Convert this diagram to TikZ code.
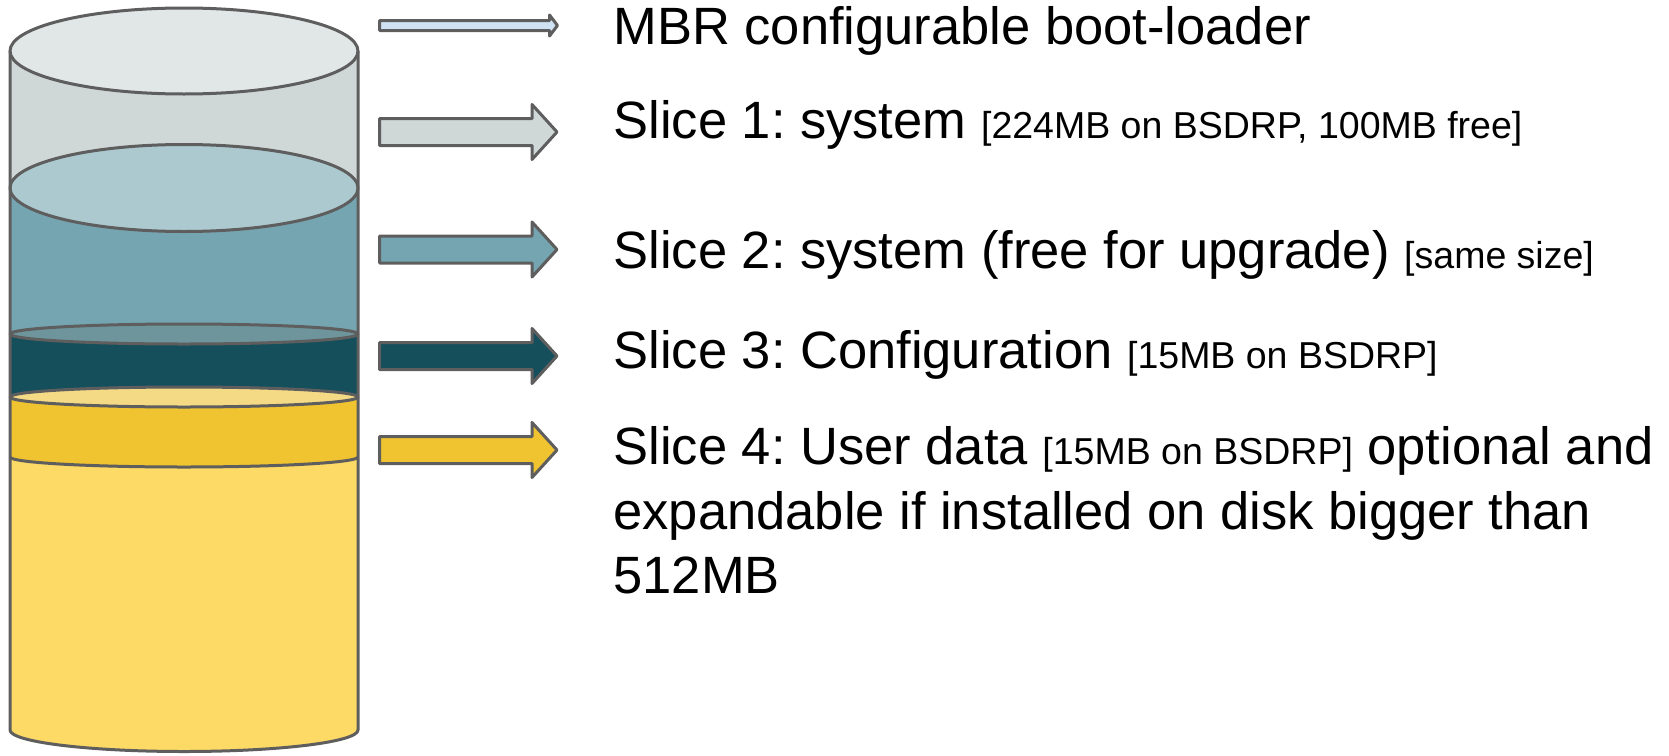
\documentclass[tikz,border=0pt]{standalone}
\usepackage{fontspec}
\setmainfont{Liberation Sans}
\frenchspacing
\definecolor{edgegray}{HTML}{5E5E5E}
\definecolor{sOneSide}{HTML}{D0D7D7}
\definecolor{sOneTop}{HTML}{E1E6E6}
\definecolor{sTwoSide}{HTML}{75A5B0}
\definecolor{sTwoTop}{HTML}{ACC9CF}
\definecolor{sThreeSide}{HTML}{154F5C}
\definecolor{sThreeTop}{HTML}{6E959C}
\definecolor{sFourSide}{HTML}{F0C330}
\definecolor{sFourTop}{HTML}{F5DA85}
\definecolor{bodyYellow}{HTML}{FDD966}
\definecolor{mbrBlue}{HTML}{CFE2F3}
\newcommand\smalltxt{\fontsize{37.5}{45}\selectfont}
\newcommand\slicearrow[2]{%
  \draw[arrowshape, fill=#2] (379.5,{#1-13.5}) -- (532,{#1-13.5}) -- (532,{#1-27.5}) -- (557,#1)
    -- (532,{#1+27.5}) -- (532,{#1+13.5}) -- (379.5,{#1+13.5}) -- cycle;}
\begin{document}
\begin{tikzpicture}[x=1pt,y=-1pt,line width=3pt,line join=round,
  arrowshape/.style={draw=edgegray},
  bigtext/.style={anchor=base west,inner sep=0pt,font=\fontsize{52.5}{63}\selectfont,text=black}]
\useasboundingbox (0,0) rectangle (1669,755);
% body (bottom, light yellow)
\fill[bodyYellow] (10,457) -- (10,730) arc[start angle=180,end angle=0,x radius=174,y radius=21.5] -- (358,457) -- cycle;
% slice 1
\fill[sOneSide] (10,51) -- (10,188) arc[start angle=180,end angle=0,x radius=174,y radius=43.5] -- (358,51) -- cycle;
\draw[edgegray,fill=sOneTop] (184,51) ellipse[x radius=174,y radius=43];
% slice 2
\fill[sTwoSide] (10,188) -- (10,334) arc[start angle=180,end angle=0,x radius=174,y radius=10] -- (358,188) -- cycle;
\draw[edgegray,fill=sTwoTop] (184,188) ellipse[x radius=174,y radius=43.5];
% slice 3
\fill[sThreeSide] (10,334) -- (10,397) arc[start angle=180,end angle=0,x radius=174,y radius=10] -- (358,334) -- cycle;
\draw[edgegray,fill=sThreeTop] (184,334) ellipse[x radius=174,y radius=10];
% slice 4
\fill[sFourSide] (10,397) -- (10,457) arc[start angle=180,end angle=0,x radius=174,y radius=10] -- (358,397) -- cycle;
\draw[edgegray] (10,457) arc[start angle=180,end angle=0,x radius=174,y radius=10];
\draw[edgegray,fill=sFourTop] (184,397) ellipse[x radius=174,y radius=10];
% outer outline
\draw[edgegray] (10,51) -- (10,730) arc[start angle=180,end angle=0,x radius=174,y radius=21.5] -- (358,51);
% arrows
\draw[arrowshape, fill=mbrBlue] (379.5,20.5) -- (549.5,20.5) -- (549.5,15) -- (557.5,25.5)
  -- (549.5,36) -- (549.5,30.5) -- (379.5,30.5) -- cycle;
\slicearrow{132}{sOneSide}
\slicearrow{249.5}{sTwoSide}
\slicearrow{356}{sThreeSide}
\slicearrow{450}{sFourSide}
% labels
\node[bigtext] (mbr) at (612,44) {MBR configurable boot-loader};
\node[bigtext] (sone) at (612,138) {Slice 1: system {\smalltxt [224MB on BSDRP, 100MB free]}};
\node[bigtext] (stwo) at (612,268) {Slice 2: system (free for upgrade) {\smalltxt [same size]}};
\node[bigtext] (sthree) at (612,368) {Slice 3: Configuration {\smalltxt [15MB on BSDRP]}};
\node[bigtext] (sfour) at (612,464) {Slice 4: User data {\smalltxt [15MB on BSDRP]} optional and};
\node[bigtext] (sfourb) at (612,529) {expandable if installed on disk bigger than};
\node[bigtext] (sfourc) at (612,593) {512MB};
\end{tikzpicture}
\end{document}
